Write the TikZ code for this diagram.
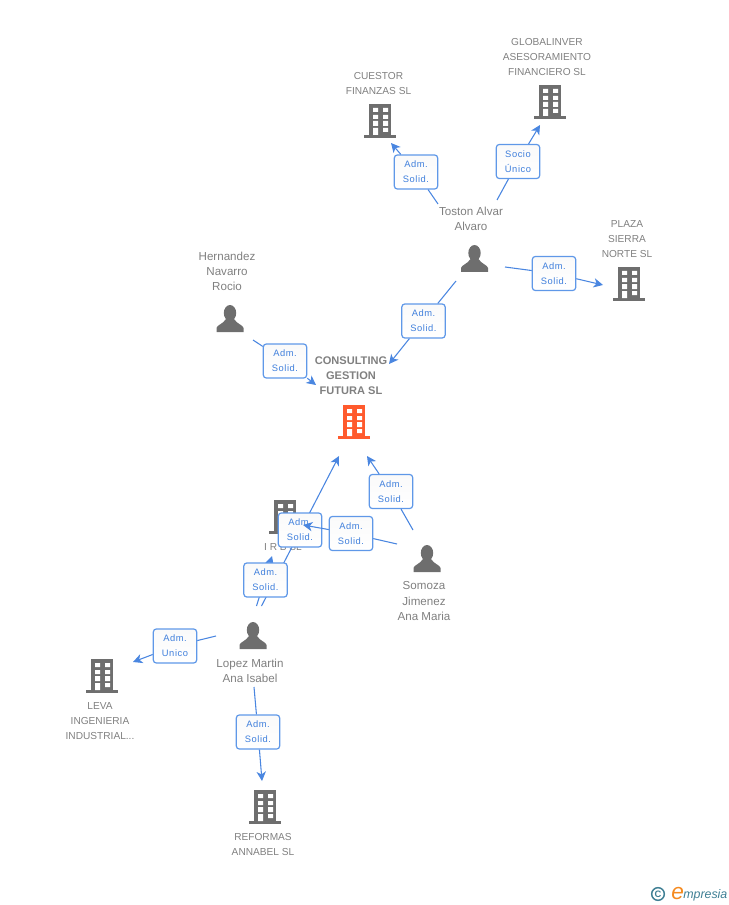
\documentclass[tikz,border=0pt]{standalone}
\usepackage{fontspec}
\setmainfont{Liberation Sans}
\usetikzlibrary{arrows.meta}
\definecolor{linkblue}{HTML}{4A86E0}
\definecolor{boxblue}{HTML}{5F98E8}
\definecolor{labelblue}{HTML}{3F7FDC}
\definecolor{icongrey}{HTML}{6E6E6E}
\definecolor{textgrey}{HTML}{808080}
\definecolor{firmorange}{HTML}{FF5A2D}
\definecolor{logoteal}{HTML}{3F7F94}
\definecolor{logoorange}{HTML}{F58A1F}
\tikzset{
  rolebox/.style={draw=boxblue, line width=0.9pt, rounded corners=2.2pt, top color=black!2, bottom color=white,
    minimum width=32.5pt, minimum height=25.5pt, inner sep=0pt, align=center, text=labelblue,
    font=\fontsize{7}{11.2}\selectfont\addfontfeature{LetterSpace=6}},
  firmlabel/.style={align=center, text=textgrey, inner sep=0pt, font=\fontsize{7.6}{11.25}\selectfont},
  perslabel/.style={align=center, text=textgrey, inner sep=0pt, font=\fontsize{8.7}{11.25}\selectfont},
  link/.style={draw=linkblue, line width=0.8pt},
  linkto/.style={link, -{Stealth[length=7pt,width=7pt,inset=2pt]}},
  pics/bldg/.style={code={
    \fill[#1] (-11,-17) rectangle (11,14);
    \fill[#1] (-16,14) rectangle (16,17);
    \fill[white] (-7,-13) rectangle (-2,-9) (3,-13) rectangle (8,-9)
      (-7,-6) rectangle (-2,-2) (3,-6) rectangle (8,-2)
      (-7,0) rectangle (-2,5) (3,0) rectangle (8,5)
      (-7,7) rectangle (-2,14) (3,7) rectangle (8,11);
  }},
  pics/pers/.style={code={
    \fill[icongrey] (0,-6) ellipse (6.2 and 8);
    \fill[icongrey] (-13.5,13) -- (-13.5,9) .. controls (-13,6) and (-7,5) .. (-4,0)
      -- (4,0) .. controls (7,5) and (13,6) .. (13.5,9) -- (13.5,13) -- cycle;
  }},
}
\begin{document}
\begin{tikzpicture}[x=0.75pt,y=-0.75pt]
\useasboundingbox (0,0) rectangle (728,905);
% firms
\pic at (380,121) {bldg=icongrey};
\pic at (550,102) {bldg=icongrey};
\pic at (629,284) {bldg=icongrey};
\pic at (354,422) {bldg=firmorange};
\pic at (285,517) {bldg=icongrey};
\pic at (102,676) {bldg=icongrey};
\pic at (265,807) {bldg=icongrey};
\node[firmlabel] (cuestor) at (378.5,83.5) {CUESTOR\\FINANZAS SL};
\node[firmlabel] (globalinver) at (547,57) {GLOBALINVER\\ASESORAMIENTO\\FINANCIERO SL};
\node[firmlabel] (plaza) at (627,239) {PLAZA\\SIERRA\\NORTE SL};
\node[firmlabel,font=\fontsize{8.3}{11.25}\selectfont\bfseries] (consulting) at (351,376) {CONSULTING\\GESTION\\FUTURA SL};
\node[firmlabel] (irb) at (283,547) {I R B SL};
\node[firmlabel] (leva) at (100,721) {LEVA\\INGENIERIA\\INDUSTRIAL...};
\node[firmlabel] (reformas) at (263,844.5) {REFORMAS\\ANNABEL SL};
% people
\pic at (474.5,259) {pers};
\pic at (230,319) {pers};
\pic at (427,559) {pers};
\pic at (253,636) {pers};
\node[perslabel] (toston) at (471,218.5) {Toston Alvar\\Alvaro};
\node[perslabel] (hernandez) at (227,271) {Hernandez\\Navarro\\Rocio};
\node[perslabel] (somoza) at (424,601) {Somoza\\Jimenez\\Ana Maria};
\node[perslabel] (lopez) at (250,670.5) {Lopez Martin\\Ana Isabel};
% free ends
\coordinate (t1) at (438,204);   \coordinate (e1) at (391,143);
\coordinate (t2) at (497,200);   \coordinate (e2) at (540,125);
\coordinate (t3) at (505,267);   \coordinate (e3) at (603,285);
\coordinate (t4) at (456,281);   \coordinate (e4) at (389,364);
\coordinate (h1) at (253,340);   \coordinate (e5) at (316,385);
\coordinate (s1) at (413,530);   \coordinate (e6) at (367,456);
\coordinate (s2) at (397,544);   \coordinate (e7) at (303,525);
\coordinate (l1) at (261.5,606); \coordinate (e8) at (339,456);
\coordinate (l2) at (256.5,606); \coordinate (e9) at (272,556);
\coordinate (l3) at (216,636);   \coordinate (e10) at (133,662);
\coordinate (l4) at (254,687);   \coordinate (e11) at (262,781);
% links under the boxes
\draw[linkto] (l1) -- (e8);
\draw[linkto] (l2) -- (e9);
% role boxes
\node[rolebox] (rcuestor) at (416,172) {Adm.\\Solid.};
\node[rolebox] (rglobal) at (518,161.5) {Socio\\Único};
\node[rolebox] (rplaza) at (554,273.5) {Adm.\\Solid.};
\node[rolebox] (rtoston) at (423.5,321) {Adm.\\Solid.};
\node[rolebox] (rhern) at (285,361) {Adm.\\Solid.};
\node[rolebox] (rsomoza) at (391,491.5) {Adm.\\Solid.};
\node[rolebox] (rirb) at (351,533.5) {Adm.\\Solid.};
\node[rolebox] (rlopez) at (300,530) {Adm.\\Solid.};
\node[rolebox] (rirbb) at (265.5,580) {Adm.\\Solid.};
\node[rolebox] (rleva) at (175,646) {Adm.\\Unico};
\node[rolebox] (rreformas) at (258,732) {Adm.\\Solid.};
% links
\draw[link] (t1) -- (rcuestor);  \draw[linkto] (rcuestor) -- (e1);
\draw[link] (t2) -- (rglobal);   \draw[linkto] (rglobal) -- (e2);
\draw[link] (t3) -- (rplaza);    \draw[linkto] (rplaza) -- (e3);
\draw[link] (t4) -- (rtoston);   \draw[linkto] (rtoston) -- (e4);
\draw[link] (h1) -- (rhern);     \draw[linkto] (rhern) -- (e5);
\draw[link] (s1) -- (rsomoza);   \draw[linkto] (rsomoza) -- (e6);
\draw[link] (s2) -- (rirb);      \draw[linkto] (rirb) -- (e7);
\draw[link] (l3) -- (rleva);     \draw[linkto] (rleva) -- (e10);
\draw[link] (l4) -- (rreformas); \draw[linkto] (rreformas) -- (e11);
% logo
\node[circle, draw=logoteal, line width=1.1pt, minimum size=9.5pt, inner sep=0pt, text=logoteal, font=\fontsize{7}{8}\selectfont\bfseries] (copy) at (658,894) {C};
\node[anchor=base west, inner sep=0pt, text=logoorange, font=\fontsize{17}{17}\selectfont\itshape] (logoe) at (671,899) {e};
\node[anchor=base west, inner sep=0pt, text=logoteal, font=\fontsize{9.3}{9.3}\selectfont\itshape] (logotext) at (683,898) {mpresia};
\end{tikzpicture}
\end{document}
